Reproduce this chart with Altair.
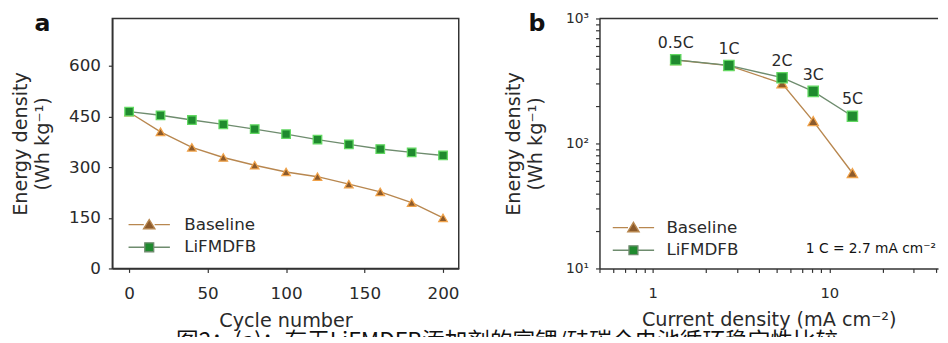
import altair as alt
import pandas as pd

# ---------------- data ----------------
series_names = ["Baseline", "LiFMDFB"]

cycles = [0, 20, 40, 60, 80, 100, 120, 140, 160, 180, 200]
baseline_cycle = [463, 405, 359, 329, 306, 286, 272, 250, 227, 195, 150]
lifmdfb_cycle = [465, 454, 440, 427, 413, 398, 382, 368, 354, 344, 335]

rate_labels = ["0.5C", "1C", "2C", "3C", "5C"]
current_density = [1.35, 2.7, 5.4, 8.1, 13.5]
baseline_rate = [465, 420, 302, 151, 58]
lifmdfb_rate = [467, 421, 336, 261, 165]

cycle_ticks = [0, 50, 100, 150, 200]
energy_ticks = [0, 150, 300, 450, 600]
log_x_ticks = [0.5, 0.6, 0.7, 0.8, 0.9, 1, 2, 3, 4, 5, 6, 7, 8, 9, 10, 20, 30, 40]
log_y_ticks = [10, 20, 30, 40, 50, 60, 70, 80, 90,
               100, 200, 300, 400, 500, 600, 700, 800, 900, 1000]
log_x_labels = {1: "1", 10: "10"}
log_y_labels = {10: "10¹", 100: "10²", 1000: "10³"}

panel_letters = ["a", "b"]
note_text = "1 C = 2.7 mA cm⁻²"
y_title = ["Energy density", "(Wh kg⁻¹)"]
x_title_a = "Cycle number"
x_title_b = "Current density (mA cm⁻²)"
caption = "图2：(a)：有无LiFMDFB添加剂的富锂/硅碳全电池循环稳定性比较"

# ---------------- styles ----------------
line_colors = ["#b8874f", "#6e8c6e"]
marker_fill = ["#8c5a2b", "#1f8a2e"]
marker_edge = ["#f0a24a", "#62d862"]
marker_shapes = ["triangle-up", "square"]
legend_shapes = [
    "M-4.2,0H-1.1M1.1,0H4.2M0,-1.05L1.15,0.85L-1.15,0.85Z",
    "M-4.2,0H-0.9M0.9,0H4.2M-0.9,-0.9H0.9V0.9H-0.9Z",
]
FONT = "DejaVu Sans"
INK = "#2a2a2a"

df_a = pd.DataFrame({
    "cycle": cycles + cycles,
    "energy": baseline_cycle + lifmdfb_cycle,
    "series": [series_names[0]] * len(cycles) + [series_names[1]] * len(cycles),
})
df_b = pd.DataFrame({
    "current": current_density + current_density,
    "energy": baseline_rate + lifmdfb_rate,
    "series": [series_names[0]] * len(current_density) + [series_names[1]] * len(current_density),
    "rate": rate_labels + rate_labels,
})


def legend_params(lx, ly, off):
    return alt.Legend(
        title=None, orient="none", legendX=lx, legendY=ly, direction="vertical",
        labelFont=FONT, labelFontSize=17, labelColor=INK, labelOffset=off,
        symbolSize=100, symbolStrokeWidth=1.4, symbolOpacity=1,
        rowPadding=5, padding=0,
    )


def series_layers(df, x, y, psize, leg):
    sc = lambda rng: alt.Scale(domain=series_names, range=rng)
    line = alt.Chart(df).mark_line(strokeWidth=1.4).encode(
        x=x, y=y,
        stroke=alt.Stroke("series:N", scale=sc(line_colors), legend=None),
    )
    pts = alt.Chart(df).mark_point(filled=True, opacity=1, size=psize, strokeWidth=1.3).encode(
        x=x, y=y,
        fill=alt.Fill("series:N", scale=sc(marker_fill), legend=None),
        stroke=alt.Stroke("series:N", scale=sc(marker_edge), legend=None),
        shape=alt.Shape("series:N", scale=sc(marker_shapes), legend=None),
    )
    legend_layer = alt.Chart(df).mark_point(filled=True, opacity=0, strokeWidth=1.4).encode(
        x=x, y=y,
        fill=alt.Fill("series:N", scale=sc(marker_fill), legend=leg),
        stroke=alt.Stroke("series:N", scale=sc(line_colors), legend=leg),
        shape=alt.Shape("series:N", scale=sc(legend_shapes), legend=leg),
    )
    return [line, pts, legend_layer]


def letter(t, dx):
    return alt.Chart(pd.DataFrame({"t": [t]})).mark_text(
        font=FONT, fontSize=24, fontWeight="bold", align="left", baseline="alphabetic", color="#111"
    ).encode(x=alt.value(dx), y=alt.value(13), text="t:N")


axis_common = dict(
    domainColor="#333", domainWidth=1.5, tickColor="#333", tickWidth=1.2, tickSize=4,
    labelFont=FONT, labelColor=INK, titleFont=FONT, titleColor=INK,
    titleFontWeight="normal", grid=False,
)

# ---------------- panel a ----------------
WA, HA = 352, 254
xa = alt.X("cycle:Q", scale=alt.Scale(domain=[-10.7, 210], nice=False, zero=False),
           axis=alt.Axis(values=cycle_ticks, title=x_title_a, labelFontSize=17, labelPadding=14,
                         titleFontSize=19.5, titlePadding=10, **axis_common))
ya = alt.Y("energy:Q", scale=alt.Scale(domain=[0, 741], nice=False),
           axis=alt.Axis(values=energy_ticks, title=y_title, labelFontSize=17, labelPadding=8,
                         titleFontSize=19.5, titlePadding=16, titleLineHeight=23, **axis_common))

panel_a = alt.layer(
    *series_layers(df_a, xa, ya, 75, legend_params(29, 201, 27)),
    letter(panel_letters[0], -79),
).resolve_scale(fill="independent", stroke="independent", shape="independent").properties(
    width=WA, height=HA, view=alt.ViewBackground(stroke="#333", strokeWidth=1.5)
)

# ---------------- panel b ----------------
WB, HB = 344, 254
x_label_expr = " : ".join(f"datum.value == {k} ? '{v}'" for k, v in log_x_labels.items()) + " : ''"
y_label_expr = " : ".join(f"datum.value == {k} ? '{v}'" for k, v in log_y_labels.items()) + " : ''"
xb = alt.X("current:Q", scale=alt.Scale(type="log", domain=[0.5, 41.2], nice=False),
           axis=alt.Axis(values=log_x_ticks, labelExpr=x_label_expr, title=x_title_b,
                         labelFontSize=15, labelPadding=14, titleFontSize=19.5, titlePadding=10,
                         **axis_common))
yb = alt.Y("energy:Q", scale=alt.Scale(type="log", domain=[10, 1000], nice=False),
           axis=alt.Axis(values=log_y_ticks, labelExpr=y_label_expr, title=y_title,
                         labelFontSize=14, labelPadding=7, titleFontSize=19.5, titlePadding=20,
                         titleLineHeight=23, **axis_common))

rate_text = alt.Chart(df_b[df_b["series"] == series_names[1]]).mark_text(
    font=FONT, fontSize=16, color=INK, dy=-17
).encode(x=xb, y=yb, text="rate:N")

note = alt.Chart(pd.DataFrame({"t": [note_text]})).mark_text(
    font=FONT, fontSize=14, color="#111", align="right", baseline="middle"
).encode(x=alt.value(WB - 2), y=alt.value(234), text="t:N")

top_border = alt.Chart(pd.DataFrame({"t": [0]})).mark_rule(color="#333", strokeWidth=1.5).encode(
    x=alt.value(0), x2=alt.value(WB), y=alt.value(0)
)

panel_b = alt.layer(
    *series_layers(df_b, xb, yb, 110, legend_params(26, 204, 25)),
    rate_text, note, top_border,
    letter(panel_letters[1], -72),
).resolve_scale(fill="independent", stroke="independent", shape="independent").properties(
    width=WB, height=HB
)

chart = alt.hconcat(panel_a, panel_b, spacing=143, bounds="flush").resolve_scale(
    fill="independent", stroke="independent", shape="independent"
).properties(
    padding={"left": 1, "top": 0, "right": 0, "bottom": -21},
    title=alt.TitleParams(
        text=caption, orient="bottom", anchor="start", fontSize=23,
        font="Noto Sans CJK SC", fontWeight="normal", color="#111", offset=1, dx=169,
    ),
).configure_view(stroke="transparent")

chart.save("out.html", embed_options={"renderer": "svg", "actions": False})
